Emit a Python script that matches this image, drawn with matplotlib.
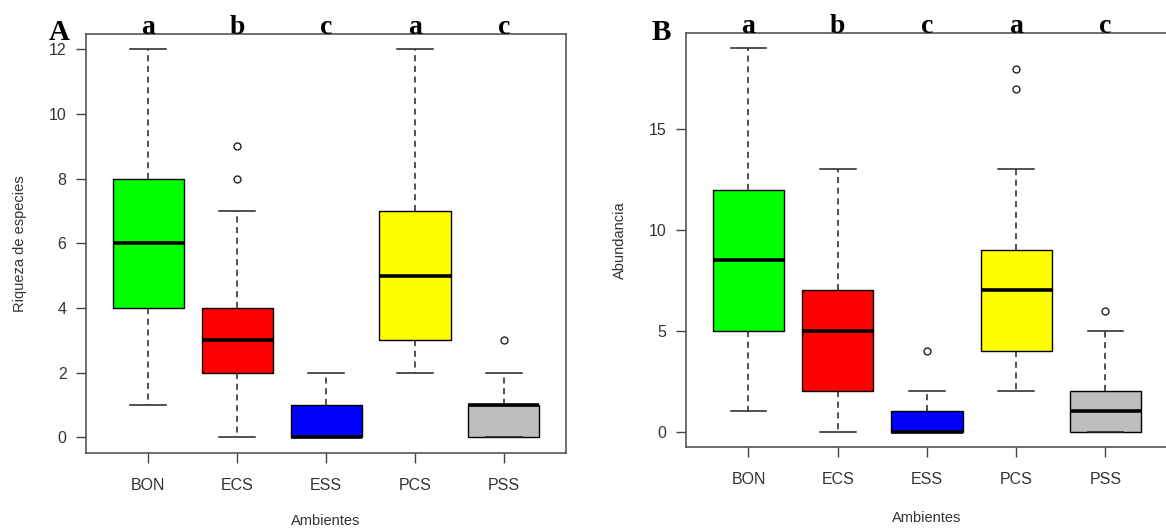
import numpy as np
import matplotlib.pyplot as plt

ambientes = ['BON', 'ECS', 'ESS', 'PCS', 'PSS']
colores = ['#00FF00', '#FF0000', '#0000FF', '#FFFF00', '#BEBEBE']
letras = ['a', 'b', 'c', 'a', 'c']

# Riqueza de especies: minimo, Q1, mediana, Q3, maximo y atipicos
riq_min = [1, 0, 0, 2, 0]
riq_q1 = [4, 2, 0, 3, 0]
riq_med = [6, 3, 0, 5, 1]
riq_q3 = [8, 4, 1, 7, 1]
riq_max = [12, 7, 2, 12, 2]
riq_atip = [[], [8, 9], [], [], [3]]

# Abundancia
abu_min = [1, 0, 0, 2, 0]
abu_q1 = [5, 2, 0, 4, 0]
abu_med = [8.5, 5, 0, 7, 1]
abu_q3 = [12, 7, 1, 9, 2]
abu_max = [19, 13, 2, 13, 5]
abu_atip = [[], [], [4], [17, 18], [6]]

gris = '#333333'
plt.rcParams['font.family'] = ['Liberation Sans', 'DejaVu Sans']


def caja(ax, mins, q1s, meds, q3s, maxs, atips, etiqueta_y, ticks_y, pad_y, pad_x):
    stats = []
    for i in range(len(ambientes)):
        stats.append(dict(whislo=mins[i], q1=q1s[i], med=meds[i], q3=q3s[i],
                          whishi=maxs[i], fliers=atips[i], label=ambientes[i]))
    bp = ax.bxp(stats, positions=range(1, 6), widths=0.8, capwidths=0.4,
                patch_artist=True,
                boxprops=dict(edgecolor='black', linewidth=1.0),
                medianprops=dict(color='black', linewidth=2.6, solid_capstyle='butt'),
                whiskerprops=dict(color='#222222', linewidth=1.1, linestyle=(0, (4, 3))),
                capprops=dict(color='#222222', linewidth=1.1),
                flierprops=dict(marker='o', markersize=5, markerfacecolor='none',
                                markeredgecolor='#222222', markeredgewidth=1.0))
    for parche, c in zip(bp['boxes'], colores):
        parche.set_facecolor(c)

    ymin = min(mins)
    ymax = max(max(maxs), max(max(a) if a else 0 for a in atips))
    rango = ymax - ymin
    ax.set_ylim(ymin - 0.04 * rango, ymax + 0.04 * rango)
    ax.set_xlim(0.3, 5.7)
    ax.set_yticks(ticks_y)
    ax.set_xticks(range(1, 6))
    ax.set_xticklabels(ambientes)
    ax.tick_params(direction='out', length=7, width=1.0, color='#444444',
                   labelcolor=gris, labelsize=11.5)
    ax.tick_params(axis='x', pad=11)
    ax.tick_params(axis='y', pad=7)
    for s in ax.spines.values():
        s.set_color('#555555')
        s.set_linewidth(1.2)
    ax.set_ylabel(etiqueta_y, color=gris, fontsize=10.5, labelpad=pad_y)
    ax.set_xlabel('Ambientes', color=gris, fontsize=10.5, labelpad=pad_x)

    for i, l in enumerate(letras):
        ax.text(i + 1, 1.0, l, transform=ax.get_xaxis_transform(), ha='center',
                va='baseline', fontsize=20, fontweight='bold',
                family=['Liberation Serif', 'DejaVu Serif'], clip_on=False)


fig = plt.figure(figsize=(11.66, 5.3), dpi=100)
axA = fig.add_axes([0.0738, 0.1453, 0.4117, 0.7906])
axB = fig.add_axes([0.5883, 0.1566, 0.4134, 0.781])

caja(axA, riq_min, riq_q1, riq_med, riq_q3, riq_max, riq_atip,
     'Riqueza de especies', [0, 2, 4, 6, 8, 10, 12], 16, 15)
caja(axB, abu_min, abu_q1, abu_med, abu_q3, abu_max, abu_atip,
     'Abundancia', [0, 5, 10, 15], 16, 17)

fig.text(59 / 1166, 1 - 32 / 530, 'A', ha='center', va='center', fontsize=21,
         fontweight='bold', family=['Liberation Serif', 'DejaVu Serif'])
fig.text(661 / 1166, 1 - 32 / 530, 'B', ha='center', va='center', fontsize=21,
         fontweight='bold', family=['Liberation Serif', 'DejaVu Serif'])

fig.savefig('out.png', dpi=100)
